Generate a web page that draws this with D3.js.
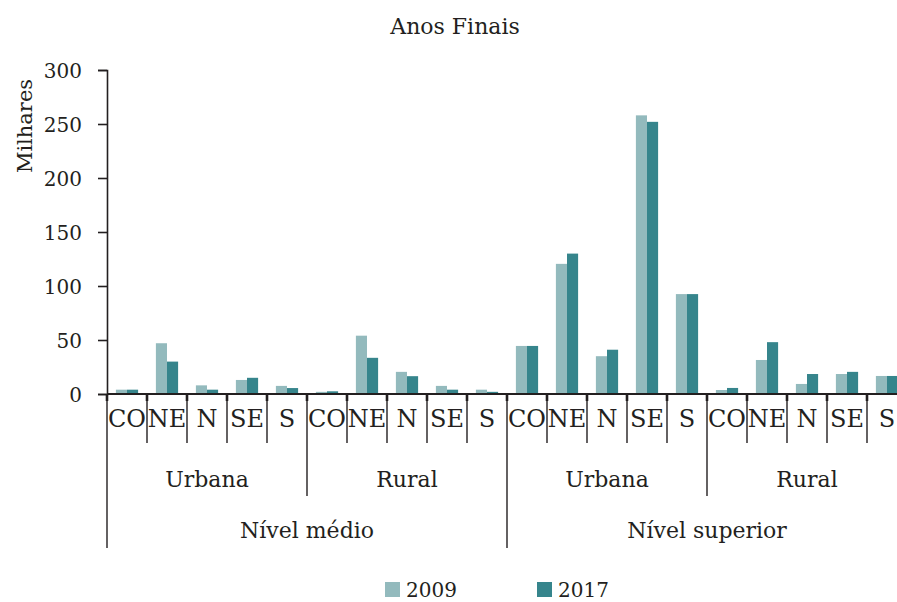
<!DOCTYPE html>
<html>
<head>
<meta charset="utf-8">
<script src="https://cdn.jsdelivr.net/npm/d3@7"></script>
<style>
	body { margin: 0; background: #ffffff; }
	text { font-family: "DejaVu Serif", serif; fill: #231f20; }
</style>
</head>
<body>
<div id="chart"></div>
<script>
// Data (thousands)
const levels = ["Nível médio", "Nível superior"];
const areas = ["Urbana", "Rural"];
const regions = ["CO", "NE", "N", "SE", "S"];
const years = ["2009", "2017"];
const values2009 = [4, 47, 8, 13, 7.5, 2, 54, 20.5, 7.5, 4, 44.5, 120.5, 35, 258, 92.5, 3.7, 31.5, 9.3, 18.5, 16.7];
const values2017 = [4, 30, 4, 15, 5.5, 2.5, 33.5, 16.5, 4, 2, 44.5, 130, 41, 252, 92.5, 5.6, 48, 18.5, 20.5, 16.7];
const yTicks = [0, 50, 100, 150, 200, 250, 300];
const colors = ["#93babd", "#36858c"];

// Build flat category list
const categories = [];
levels.forEach((lv) => {
	areas.forEach((ar) => {
		regions.forEach((rg) => {
			categories.push({ level: lv, area: ar, region: rg, key: lv + "|" + ar + "|" + rg });
		});
	});
});
categories.forEach((c, i) => {
	c.values = [values2009[i], values2017[i]];
});

const width = 897, height = 602;
const svg = d3.select("#chart")
	.append("svg")
	.attr("width", width)
	.attr("height", height);

const x = d3.scaleBand()
	.domain(categories.map((d) => d.key))
	.range([107, 907])
	.padding(0);

const x1 = d3.scaleBand()
	.domain(years)
	.range([0, x.bandwidth()])
	.paddingInner(0)
	.paddingOuter(0.8);

const y = d3.scaleLinear()
	.domain([0, 300])
	.range([394, 70]);

// Title
svg.append("text")
	.attr("x", 455)
	.attr("y", 34)
	.attr("text-anchor", "middle")
	.style("font-size", "22px")
	.text("Anos Finais");

// Y axis label
svg.append("text")
	.attr("transform", "translate(32,126) rotate(-90)")
	.attr("text-anchor", "middle")
	.style("font-size", "21px")
	.text("Milhares");

// Y axis
const yAxis = svg.append("g")
	.attr("transform", "translate(107,0)")
	.call(d3.axisLeft(y).tickValues(yTicks).tickSize(9).tickPadding(16));
yAxis.select(".domain").attr("stroke", "#231f20").attr("stroke-width", 1.6);
yAxis.selectAll(".tick line").attr("stroke", "#231f20").attr("stroke-width", 1.6);
yAxis.selectAll(".tick text")
	.style("font-size", "20px")
	.style("font-family", "DejaVu Serif, serif")
	.attr("fill", "#231f20")
	.attr("dy", "0.36em");

// Bars
const groups = svg.append("g")
	.selectAll("g")
	.data(categories)
	.join("g")
	.attr("transform", (d) => `translate(${x(d.key)},0)`);

groups.selectAll("rect")
	.data((d) => d.values.map((v, i) => ({ year: years[i], value: v })))
	.join("rect")
	.attr("x", (d) => x1(d.year))
	.attr("y", (d) => y(d.value))
	.attr("width", x1.bandwidth())
	.attr("height", (d) => y(0) - y(d.value))
	.attr("fill", (d, i) => colors[i]);

// X axis line
svg.append("line")
	.attr("x1", 107).attr("x2", width)
	.attr("y1", y(0)).attr("y2", y(0))
	.attr("stroke", "#231f20")
	.attr("stroke-width", 2);

// Region labels and separators
svg.append("g")
	.selectAll("text")
	.data(categories)
	.join("text")
	.attr("x", (d) => x(d.key) + x.bandwidth() / 2)
	.attr("y", 427)
	.attr("text-anchor", "middle")
	.style("font-size", "24px")
	.text((d) => d.region);

const sep = svg.append("g").attr("stroke", "#231f20");
categories.forEach((c, i) => {
	const xs = x(c.key);
	let bottom = 443;
	if (i % 10 === 0) bottom = 548;
	else if (i % 5 === 0) bottom = 496;
	sep.append("line")
		.attr("x1", xs).attr("x2", xs)
		.attr("y1", y(0)).attr("y2", bottom)
		.attr("stroke-width", 1.4);
	sep.append("line")
		.attr("x1", xs).attr("x2", xs)
		.attr("y1", y(0)).attr("y2", y(0) + 7)
		.attr("stroke-width", 2.6);
});

// Area labels
const areaSpans = [];
levels.forEach((lv) => areas.forEach((ar) => areaSpans.push({ level: lv, area: ar })));
svg.append("g")
	.selectAll("text")
	.data(areaSpans)
	.join("text")
	.attr("x", (d) => {
		const first = x(d.level + "|" + d.area + "|" + regions[0]);
		const last = x(d.level + "|" + d.area + "|" + regions[regions.length - 1]) + x.bandwidth();
		return (first + last) / 2;
	})
	.attr("y", 487)
	.attr("text-anchor", "middle")
	.style("font-size", "22px")
	.text((d) => d.area);

// Level labels
svg.append("g")
	.selectAll("text")
	.data(levels)
	.join("text")
	.attr("x", (d) => {
		const first = x(d + "|" + areas[0] + "|" + regions[0]);
		const last = x(d + "|" + areas[areas.length - 1] + "|" + regions[regions.length - 1]) + x.bandwidth();
		return (first + last) / 2;
	})
	.attr("y", 538)
	.attr("text-anchor", "middle")
	.style("font-size", "22px")
	.text((d) => d);

// Legend
const legendX = [385, 537];
const legend = svg.append("g")
	.selectAll("g")
	.data(years)
	.join("g")
	.attr("transform", (d, i) => `translate(${legendX[i]},582)`);
legend.append("rect")
	.attr("width", 15)
	.attr("height", 15)
	.attr("fill", (d, i) => colors[i]);
legend.append("text")
	.attr("x", 21)
	.attr("y", 15)
	.style("font-size", "20px")
	.text((d) => d);
</script>
</body>
</html>
